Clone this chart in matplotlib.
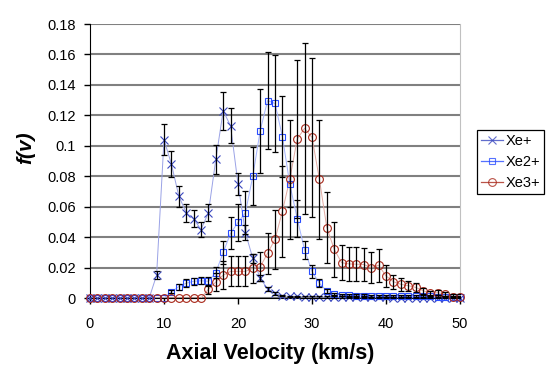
import numpy as np
import matplotlib
matplotlib.use("Agg")
from matplotlib import pyplot as plt
from matplotlib.lines import Line2D

plt.rcParams['font.family'] = ['Liberation Sans', 'DejaVu Sans']

# axial velocity (km/s)
velocity = np.arange(0, 51)

xe1 = [0, 0, 0, 0, 0, 0, 0, 0, 0, 0.015,
       0.104, 0.088, 0.067, 0.056, 0.052, 0.045, 0.056, 0.091, 0.123, 0.113,
       0.075, 0.043, 0.026, 0.013, 0.006, 0.003, 0.0015, 0.001, 0.001, 0.0008,
       0.0008, 0.0007, 0.0007, 0.0006, 0.0006, 0.0005, 0.0005, 0.0005, 0.0004, 0.0004,
       0.0004, 0.0003, 0.0003, 0.0003, 0.0002, 0.0002, 0.0002, 0.0002, 0.0001, 0.0001,
       0.0001]
xe1_err = [0, 0, 0, 0, 0, 0, 0, 0, 0, 0.0025,
           0.010, 0.0086, 0.0069, 0.006, 0.0055, 0.0047, 0.0055, 0.0093, 0.0126, 0.0115,
           0.0071, 0.005, 0.003, 0.002, 0.0015, 0.001, 0.0005, 0.0005, 0.0005, 0.0005,
           0.0005, 0.0005, 0.0005, 0.0005, 0.0005, 0.0005, 0.0005, 0.0005, 0.0005, 0.0005,
           0.0005, 0.0005, 0.0005, 0.0005, 0.0005, 0.0005, 0.0005, 0.0005, 0.0005, 0.0005,
           0.0005]

xe2 = [0, 0, 0, 0, 0, 0, 0, 0, 0, 0,
       0, 0.004, 0.0075, 0.0097, 0.011, 0.0113, 0.011, 0.0167, 0.030, 0.0425,
       0.0496, 0.056, 0.080, 0.110, 0.1297, 0.1278, 0.106, 0.0748, 0.0522, 0.0316,
       0.0175, 0.0097, 0.0046, 0.0028, 0.002, 0.0017, 0.0015, 0.0015, 0.0014, 0.0014,
       0.0013, 0.0013, 0.0012, 0.0012, 0.0011, 0.001, 0.001, 0.0009, 0.0008, 0.0007,
       0.0006]
xe2_err = [0, 0, 0, 0, 0, 0, 0, 0, 0, 0,
           0, 0.001, 0.002, 0.0026, 0.0022, 0.0022, 0.003, 0.0035, 0.0075, 0.0104,
           0.0122, 0.014, 0.019, 0.0276, 0.032, 0.032, 0.0265, 0.015, 0.012, 0.006,
           0.0045, 0.0025, 0.0015, 0.0008, 0.0008, 0.0008, 0.0008, 0.0008, 0.0008, 0.0008,
           0.0008, 0.0008, 0.0008, 0.0008, 0.0008, 0.0008, 0.0008, 0.0008, 0.0008, 0.0008,
           0.0008]

xe3 = [0, 0, 0, 0, 0, 0, 0, 0, 0, 0,
       0, 0, 0, 0, 0, 0, 0.0057, 0.0105, 0.015, 0.0175,
       0.0175, 0.0175, 0.0195, 0.0205, 0.0294, 0.0385, 0.057, 0.078, 0.1044, 0.1115,
       0.1055, 0.078, 0.0463, 0.032, 0.0232, 0.0224, 0.0222, 0.022, 0.020, 0.0215,
       0.0145, 0.0107, 0.009, 0.0081, 0.007, 0.0048, 0.0031, 0.0035, 0.0026, 0.0009,
       0.0009]
xe3_err = [0, 0, 0, 0, 0, 0, 0, 0, 0, 0,
           0, 0, 0, 0, 0, 0, 0.003, 0.006, 0.009, 0.0099,
           0.0099, 0.0099, 0.0095, 0.0095, 0.0135, 0.0195, 0.030, 0.039, 0.052, 0.056,
           0.052, 0.039, 0.0236, 0.018, 0.0115, 0.011, 0.011, 0.011, 0.010, 0.011,
           0.007, 0.0047, 0.0043, 0.0033, 0.003, 0.002, 0.0015, 0.0015, 0.0015, 0.0015,
           0.0015]

labels = ["Xe+", "Xe2+", "Xe3+"]

if __name__ == "__main__":
    fig = plt.figure(figsize=(5.52, 3.67), dpi=100)
    ax = fig.add_axes([90/552, 69/367, 370/552, 274/367])

    series = [
        (xe1, xe1_err, "x", "#3a48c0", "#9aa2e6", 6.2, None),
        (xe2, xe2_err, "s", "#2a4dff", "#a4b4ff", 5.0, "none"),
        (xe3, xe3_err, "o", "#a8281a", "#e2aaa2", 5.6, "none"),
    ]
    handles = []
    for (vals, errs, mk, col, lcol, ms, mfc), lab in zip(series, labels):
        vals = np.array(vals)
        errs = np.array(errs)
        ax.plot(velocity, vals, color=lcol, lw=0.7, zorder=2, clip_on=False)
        ax.plot(velocity, vals, ls="none", marker=mk, ms=ms, mec=col,
                mfc=mfc if mfc else col, mew=0.8, zorder=3, clip_on=False)
        m = errs > 0
        ax.errorbar(velocity[m], vals[m], yerr=errs[m], fmt="none", ecolor="black",
                    elinewidth=0.9, capsize=2.2, capthick=0.9, zorder=4)
        handles.append(Line2D([0], [0], color=col, lw=0.9, alpha=0.8, marker=mk, ms=ms,
                              mec=col, mfc=mfc if mfc else col, mew=0.8))

    ax.set_xlim(0, 50)
    ax.set_ylim(0, 0.18)
    ax.set_xticks(np.arange(0, 51, 10))
    ax.set_yticks(np.arange(0, 0.181, 0.02))
    ax.set_yticklabels(["0", "0.02", "0.04", "0.06", "0.08", "0.1", "0.12", "0.14", "0.16", "0.18"])
    ax.tick_params(axis="x", length=4, width=1, pad=10, labelsize=10.5, direction="out")
    ax.tick_params(axis="y", length=4, width=1, pad=6, labelsize=10.5, direction="out")
    ax.yaxis.grid(True, color="#808080", lw=1.5)
    ax.set_axisbelow(True)
    ax.spines["top"].set_visible(False)
    ax.spines["right"].set_color("#c0c0c0")
    ax.spines["left"].set_color("black")
    ax.spines["bottom"].set_color("black")

    fig.text(26/552, 1 - 148/367, "f(v)", rotation=90, fontsize=15, fontweight="bold",
             fontstyle="italic", ha="center", va="center")
    fig.text(270/552, 1 - 354/367, "Axial Velocity (km/s)", fontsize=15.5,
             fontweight="bold", ha="center", va="center")

    leg = ax.legend(handles, labels, loc="upper left", bbox_to_anchor=(477/552, 1 - 130/367),
                    bbox_transform=fig.transFigure, borderaxespad=0, fontsize=10.5,
                    handlelength=1.5, handletextpad=0.25, labelspacing=0.5,
                    borderpad=0.25, fancybox=False, framealpha=1)
    leg.get_frame().set_edgecolor("black")
    leg.get_frame().set_linewidth(0.9)

    fig.savefig("out.png", dpi=100)
